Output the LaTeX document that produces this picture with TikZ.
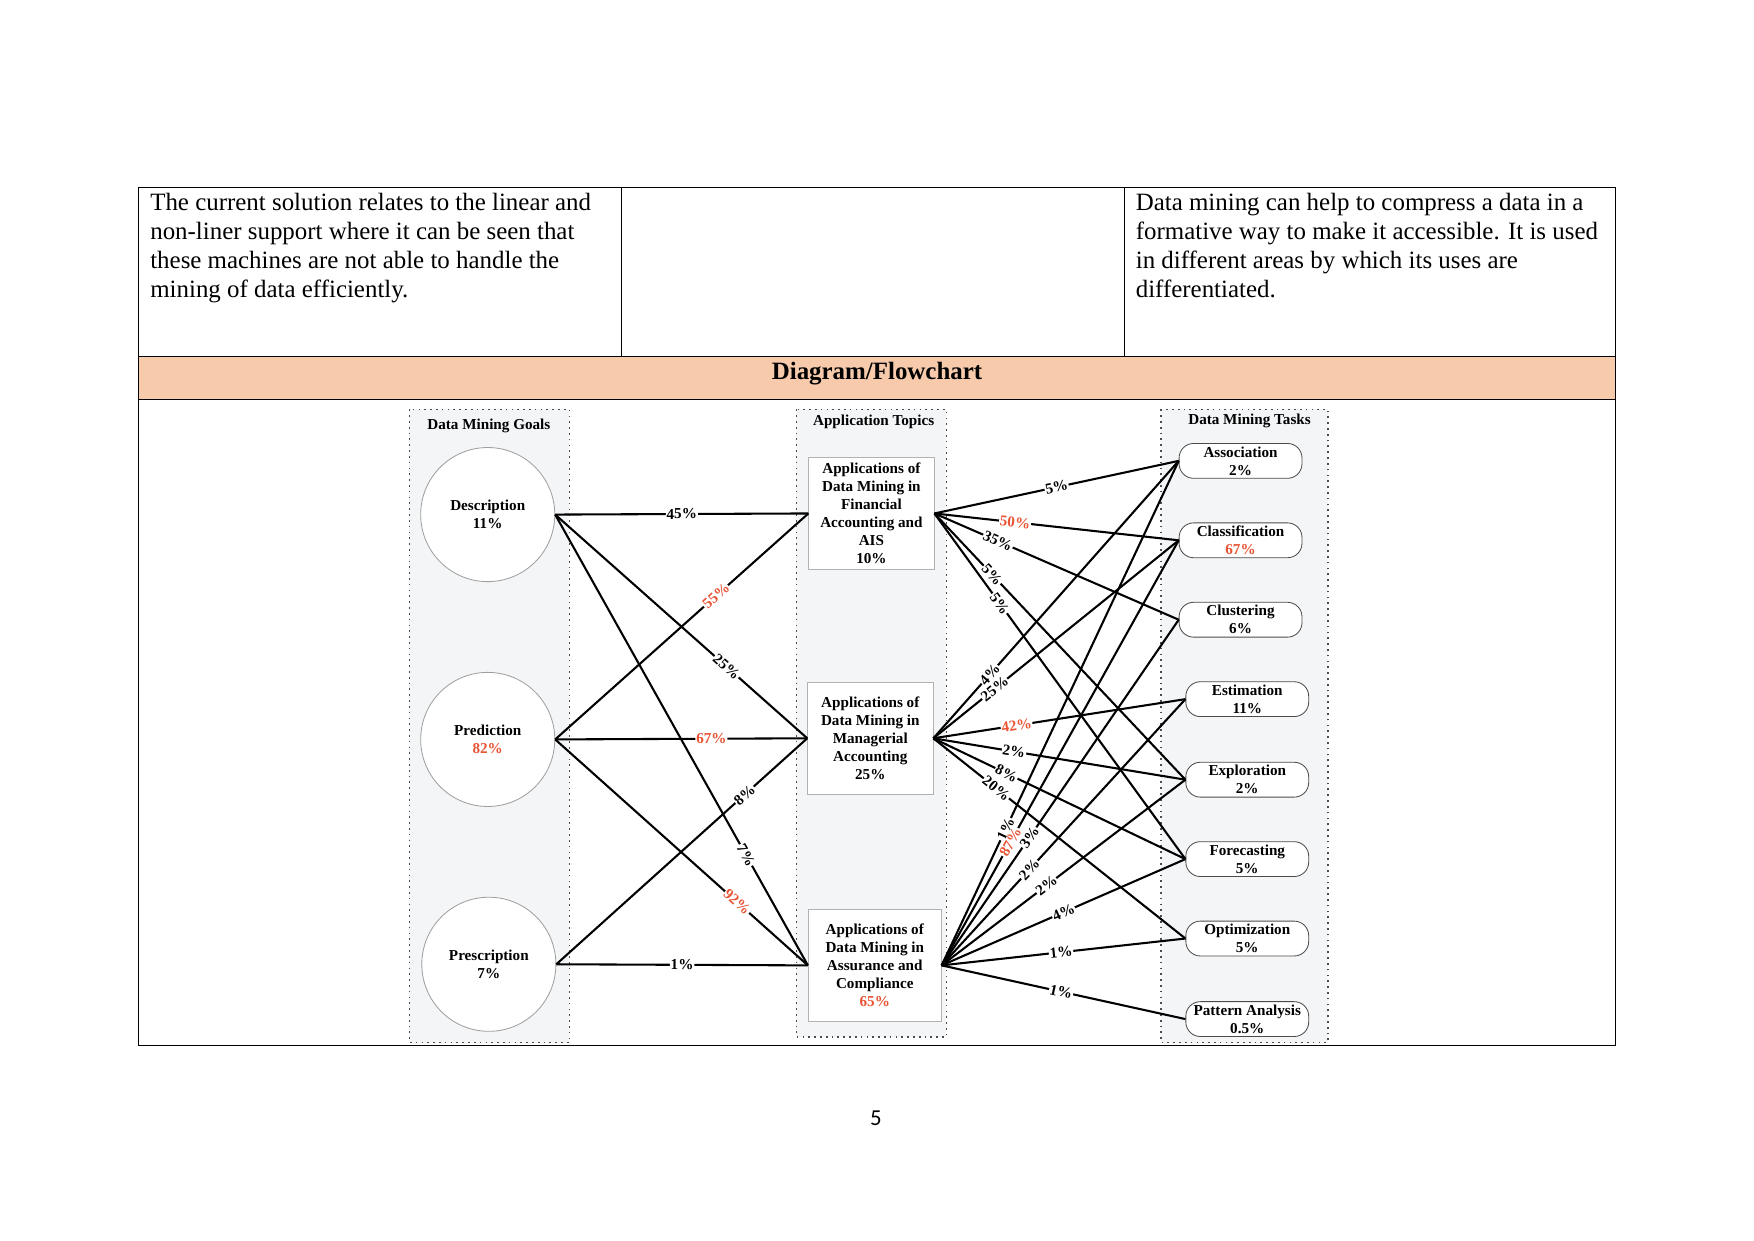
\documentclass[tikz,border=0pt]{standalone}
\usepackage{fontspec}
\usepackage{xcolor}
\usepackage{tikz}
\setmainfont{Liberation Serif}
\newfontfamily\pagenumfont{Carlito}
\usetikzlibrary{positioning, calc}
\definecolor{bandorange}{RGB}{247,202,172}
\definecolor{colgray}{RGB}{243,245,247}
\definecolor{pctred}{RGB}{232,84,52}
\newcommand{\diagfont}{\fontsize{7.3}{8.7}\selectfont\bfseries}

\begin{document}
\begin{tikzpicture}[
    x=0.018941cm, y=-0.018936cm,
    goal/.style={circle, draw=gray!75, fill=white, minimum size=2.27cm, inner sep=0pt, align=center, font=\diagfont},
    topic/.style={rectangle, draw=gray!60, fill=white, minimum width=2.12cm, minimum height=1.89cm, inner sep=1pt, align=center, font=\diagfont},
    task/.style={rectangle, rounded corners=7pt, draw=gray!60!black, fill=white, minimum width=2.08cm, minimum height=0.59cm, inner sep=0pt, align=center, font=\diagfont},
    coltitle/.style={inner sep=1pt, font=\diagfont},
    column/.style={draw=gray!60!black, dotted, line width=0.8pt, fill=colgray},
    link/.style={line width=1pt},
    pct/.style={fill=white, inner sep=0.4pt, sloped, font=\diagfont},
    cell/.style={anchor=north west, inner sep=0pt, align=left, font=\fontsize{12}{14}\selectfont}
]
    \useasboundingbox (0,0) rectangle (1568,1109);

    % table
    \fill[bandorange] (124,319) rectangle (1444,357);
    \draw[line width=0.5pt] (124,168) rectangle (1444,935);
    \draw[line width=0.5pt] (124,319) -- (1444,319);
    \draw[line width=0.5pt] (124,357) -- (1444,357);
    \draw[line width=0.5pt] (556,168) -- (556,319);
    \draw[line width=0.5pt] (1005,168) -- (1005,319);

    \node[cell] (leftcell) at (134,172) {The current solution relates to the linear and\\non-liner support where it can be seen that\\these machines are not able to handle the\\mining of data efficiently.};
    \node[cell] (rightcell) at (1015,172) {Data mining can help to compress a data in a\\formative way to make it accessible. It is used\\in different areas by which its uses are\\differentiated.};
    \node[font=\fontsize{12}{14}\selectfont\bfseries] (header) at (784,334) {Diagram/Flowchart};

    % columns
    \draw[column] (366,366) rectangle (509,932);
    \draw[column] (712,366) rectangle (846,927);
    \draw[column] (1038,366) rectangle (1187,932);

    \node[coltitle] (goalstitle) at (437,381) {Data Mining Goals};
    \node[coltitle] (topicstitle) at (781,377) {Application Topics};
    \node[coltitle] (taskstitle) at (1117,376) {Data Mining Tasks};

    % goals
    \node[goal] (desc) at (436,460) {Description\\11\%};
    \node[goal] (pred) at (436,661) {Prediction\\\textcolor{pctred}{82\%}};
    \node[goal] (presc) at (437,862) {Prescription\\7\%};

    % topics
    \node[topic] (fin) at (779,459) {Applications of\\Data Mining in\\Financial\\Accounting and\\AIS\\10\%};
    \node[topic] (mgr) at (778,660) {Applications of\\Data Mining in\\Managerial\\Accounting\\25\%};
    \node[topic, minimum width=2.25cm] (assur) at (782,863) {Applications of\\Data Mining in\\Assurance and\\Compliance\\\textcolor{pctred}{65\%}};

    % tasks
    \node[task] (assoc) at (1109,412) {Association\\2\%};
    \node[task] (classif) at (1109,483) {Classification\\\textcolor{pctred}{67\%}};
    \node[task] (clust) at (1109,554) {Clustering\\6\%};
    \node[task] (estim) at (1115,625) {Estimation\\11\%};
    \node[task] (explor) at (1115,697) {Exploration\\2\%};
    \node[task] (fcast) at (1115,768) {Forecasting\\5\%};
    \node[task] (optim) at (1115,839) {Optimization\\5\%};
    \node[task] (pattern) at (1115,911) {Pattern Analysis\\0.5\%};

    % goals -> topics
    \draw[link] (desc.east) -- node[pct, pos=0.5] {45\%} (fin.west);
    \draw[link] (desc.east) -- node[pct, pos=0.68] {25\%} (mgr.west);
    \draw[link] (desc.east) -- node[pct, pos=0.755] {7\%} (assur.west);
    \draw[link] (pred.east) -- node[pct, pos=0.635, text=pctred] {55\%} (fin.west);
    \draw[link] (pred.east) -- node[pct, pos=0.62, text=pctred] {67\%} (mgr.west);
    \draw[link] (pred.east) -- node[pct, pos=0.72, text=pctred] {92\%} (assur.west);
    \draw[link] (presc.east) -- node[pct, pos=0.75] {8\%} (mgr.west);
    \draw[link] (presc.east) -- node[pct, pos=0.5] {1\%} (assur.west);

    % topics -> tasks
    \draw[link] (fin.east) -- node[pct, pos=0.5] {5\%} (assoc.west);
    \draw[link] (fin.east) -- node[pct, pos=0.33, text=pctred] {50\%} (classif.west);
    \draw[link] (fin.east) -- node[pct, pos=0.26] {35\%} (clust.west);
    \draw[link] (fin.east) -- node[pct, pos=0.23] {5\%} (explor.west);
    \draw[link] (fin.east) -- node[pct, pos=0.26] {5\%} (fcast.west);

    \draw[link] (mgr.east) -- node[pct, pos=0.23] {4\%} (assoc.west);
    \draw[link] (mgr.east) -- node[pct, pos=0.25] {25\%} (classif.west);
    \draw[link] (mgr.east) -- node[pct, pos=0.33, text=pctred] {42\%} (estim.west);
    \draw[link] (mgr.east) -- node[pct, pos=0.32] {2\%} (explor.west);
    \draw[link] (mgr.east) -- node[pct, pos=0.29] {8\%} (fcast.west);
    \draw[link] (mgr.east) -- node[pct, pos=0.25] {20\%} (optim.west);

    \draw[link] (assur.east) -- node[pct, pos=0.27] {1\%} (assoc.west);
    \draw[link] (assur.east) -- node[pct, pos=0.29, text=pctred] {87\%} (classif.west);
    \draw[link] (assur.east) -- node[pct, pos=0.37] {3\%} (clust.west);
    \draw[link] (assur.east) -- node[pct, pos=0.36] {2\%} (estim.west);
    \draw[link] (assur.east) -- node[pct, pos=0.43] {2\%} (explor.west);
    \draw[link] (assur.east) -- node[pct, pos=0.5] {4\%} (fcast.west);
    \draw[link] (assur.east) -- node[pct, pos=0.49] {1\%} (optim.west);
    \draw[link] (assur.east) -- node[pct, pos=0.49] {1\%} (pattern.west);

    \node[font=\pagenumfont\fontsize{11}{13}\selectfont] (pagenum) at (783,1000) {5};
\end{tikzpicture}
\end{document}
